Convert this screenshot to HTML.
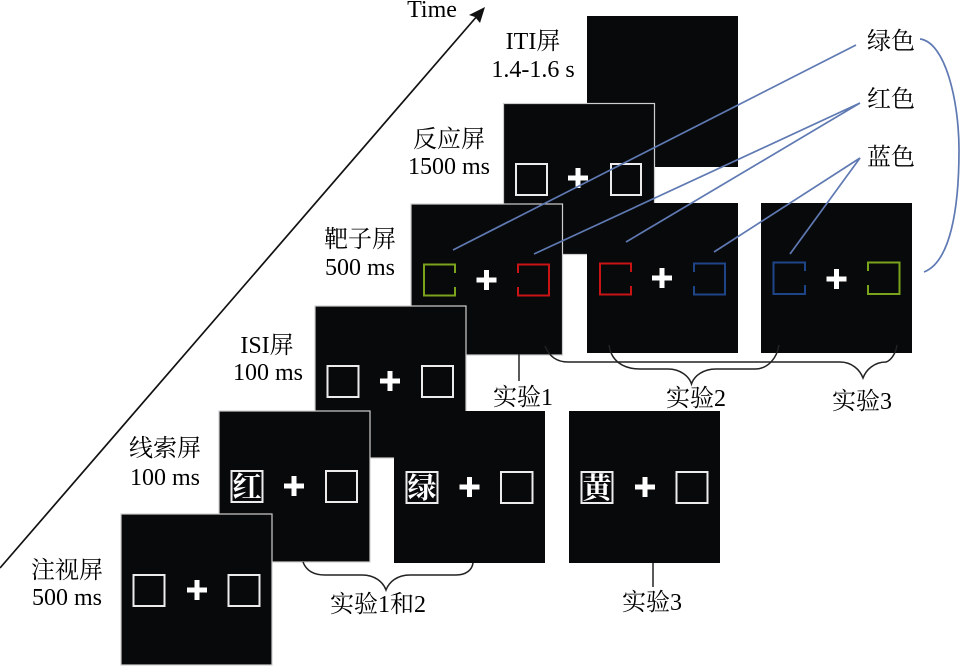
<!DOCTYPE html>
<html><head><meta charset="utf-8">
<style>
html,body{margin:0;padding:0;background:#fff;width:960px;height:667px;overflow:hidden}
svg{display:block}
text{font-family:"Liberation Serif","Noto Serif CJK SC",serif;font-size:24px;fill:#000;text-anchor:middle}
.p{fill:#08090b}
.b{fill:#08090b;stroke:#cfcfcf;stroke-width:1.2}
.s{fill:none;stroke:#ececec;stroke-width:2}
.l{fill:none;stroke:#5f79b3;stroke-width:1.7}
.k{fill:none;stroke:#222;stroke-width:1.5}
.g{font-size:29px;font-weight:700;fill:#fff;font-family:"Noto Serif CJK SC",serif}
</style></head>
<body>
<svg width="960" height="667" viewBox="0 0 960 667" xmlns="http://www.w3.org/2000/svg">
<defs>
<g id="x"><rect x="-10" y="-2.500" width="20" height="5" fill="#fff"/><rect x="-2.500" y="-10" width="5" height="20" fill="#fff"/></g>
</defs>

<!-- arrow -->
<line x1="0" y1="568" x2="478" y2="15" stroke="#111" stroke-width="1.7"/>
<polygon points="485,7 469,15 475,17 480,23" fill="#111"/>

<!-- panels back to front -->
<rect class="p" x="587" y="16" width="151" height="151"/>
<rect class="b" x="503.500" y="103.500" width="151" height="151"/>
<rect x="516" y="164" width="31" height="31" class="s"/><rect x="611" y="164" width="30" height="31" class="s"/>
<use href="#x" x="578" y="178"/>

<rect class="b" x="411" y="204" width="151.500" height="151"/>
<rect class="b" x="315" y="306" width="151" height="152"/>
<rect x="327.500" y="366" width="31" height="31" class="s"/><rect x="422" y="366" width="31" height="31" class="s"/>
<use href="#x" x="390" y="381"/>

<rect class="b" x="219" y="411" width="151" height="151"/>
<rect class="b" x="121" y="514" width="151" height="151"/>
<rect x="133.500" y="575" width="31" height="31" class="s"/><rect x="228.500" y="575" width="31" height="31" class="s"/>
<use href="#x" x="197" y="590"/>

<rect class="p" x="394" y="411" width="151" height="152"/>
<rect class="p" x="569" y="411" width="151" height="152"/>
<rect class="p" x="587" y="203" width="151" height="150"/>
<rect class="p" x="761" y="203" width="151" height="150"/>

<!-- target screen boxes -->
<path d="M455,273V264.500H424V295.500H455V287" fill="none" stroke="#7ba31c" stroke-width="2"/>
<path d="M518,273V264.500H549V295.500H518V287" fill="none" stroke="#c81414" stroke-width="2"/>
<use href="#x" x="486.500" y="280"/>
<path d="M631,272V263.500H600V294.500H631V286" fill="none" stroke="#c81414" stroke-width="2"/>
<path d="M694,272V263.500H725V294.500H694V286" fill="none" stroke="#1f4589" stroke-width="2"/>
<use href="#x" x="662" y="278"/>
<path d="M805,271V262.500H773.500V294H805V285" fill="none" stroke="#1f4589" stroke-width="2"/>
<path d="M868,271V262.500H899.500V294H868V285" fill="none" stroke="#7ba31c" stroke-width="2"/>
<use href="#x" x="836.500" y="279"/>

<!-- cue screens -->
<rect x="231.500" y="471" width="31" height="31" class="s"/><text class="g" x="247" y="497">红</text>
<use href="#x" x="294" y="486"/>
<rect x="326" y="471" width="31" height="31" class="s"/>
<rect x="406.500" y="472" width="31" height="31" class="s"/><text class="g" x="422" y="498">绿</text>
<use href="#x" x="469.500" y="487"/>
<rect x="501" y="472" width="31.500" height="31" class="s"/>
<rect x="581.500" y="472" width="31" height="31" class="s"/><text class="g" x="597" y="498">黄</text>
<use href="#x" x="645" y="487"/>
<rect x="676.500" y="472" width="31" height="31" class="s"/>

<!-- blue connectors -->
<path class="l" d="M453,250L856,45"/>
<path class="l" d="M534,254L860,103L626,242"/>
<path class="l" d="M714,252L860,158L790,254"/>
<path class="l" d="M920,39C945,42 959,100 959,150C959,210 950,262 924,272"/>

<!-- brackets -->
<path class="k" d="M303,562C306,570 313,575 325,575H362C375,575 383,582 386,590C389,582 397,575 410,575H456C466,575 472,570 473,563"/>
<path class="k" d="M545,346C549,356 556,362 568,362H840C852,362 860,370 863,378C866,370 874,362 886,362C892,360 896,352 897,345"/>
<path class="k" d="M609,345C611,360 622,369 640,369H668C680,369 689,376 691.500,384C694,376 703,369 716,369H755C768,369 777,358 779,345"/>
<line class="k" x1="519" y1="354" x2="519" y2="381"/>
<line class="k" x1="653" y1="563" x2="653" y2="587"/>

<!-- labels -->
<text x="432" y="17">Time</text>
<text x="533" y="49">ITI屏</text><text x="533" y="77">1.4-1.6 s</text>
<text x="449" y="147">反应屏</text><text x="449" y="174">1500 ms</text>
<text x="360" y="247">靶子屏</text><text x="360" y="275">500 ms</text>
<text x="267" y="353">ISI屏</text><text x="268" y="380">100 ms</text>
<text x="165" y="456">线索屏</text><text x="165" y="485">100 ms</text>
<text x="67" y="578">注视屏</text><text x="67" y="605">500 ms</text>
<text x="891" y="49">绿色</text><text x="891" y="107">红色</text><text x="891" y="165">蓝色</text>
<text x="523" y="405">实验1</text><text x="696" y="406">实验2</text><text x="862" y="409">实验3</text>
<text x="378" y="612">实验1和2</text><text x="652" y="610">实验3</text>
</svg>
</body></html>
